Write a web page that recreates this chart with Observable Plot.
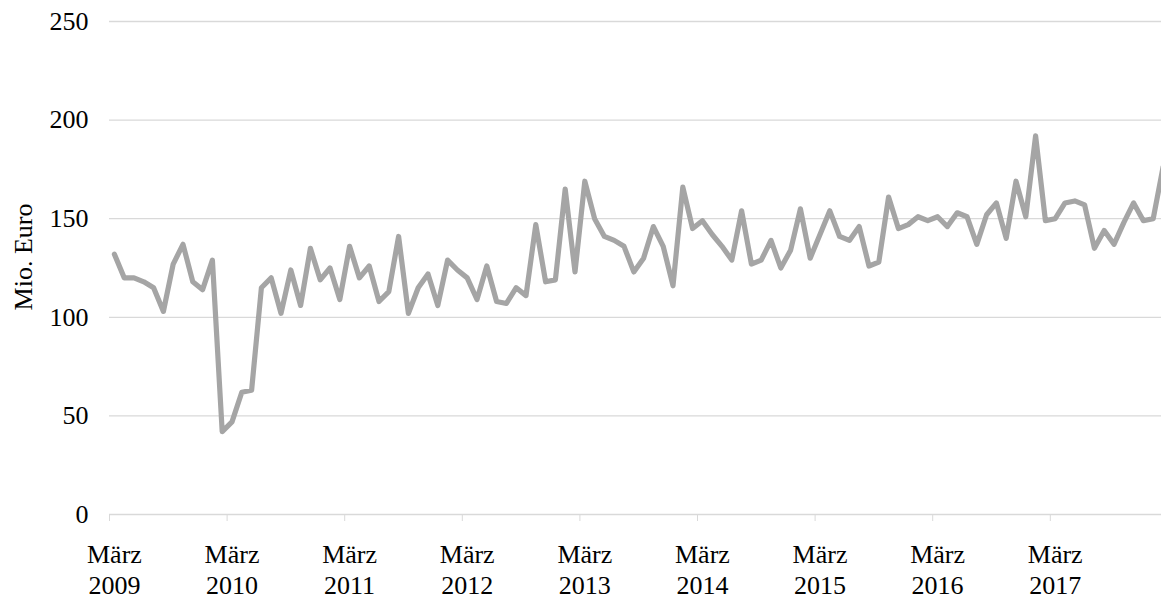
<!DOCTYPE html>
<html><head><meta charset="utf-8">
<script src="https://cdn.jsdelivr.net/npm/d3@7"></script>
<script src="https://cdn.jsdelivr.net/npm/@observablehq/plot@0.6"></script>
<style>html,body{margin:0;padding:0;background:#fff;overflow:hidden}</style>
</head><body><div id="chart"></div>
<script>
// Monthly values (Mio. Euro), März 2009 – Februar 2018
const values = [
  132,120,120,118,115,103,127,137,118,114,129,42,
  47,62,63,115,120,102,124,106,135,119,125,109,
  136,120,126,108,113,141,102,115,122,106,129,124,
  120,109,126,108,107,115,111,147,118,119,165,123,
  169,150,141,139,136,123,130,146,136,116,166,145,
  149,142,136,129,154,127,129,139,125,134,155,130,
  142,154,141,139,146,126,128,161,145,147,151,149,
  151,146,153,151,137,152,158,140,169,151,192,149,
  150,158,159,157,135,144,137,148,158,149,150,176
];
const yTicks = [0, 50, 100, 150, 200, 250];
const tickYears = [2009, 2010, 2011, 2012, 2013, 2014, 2015, 2016, 2017];
const tickMonth = "März";
const yLabel = "Mio. Euro";

const data = values.map((v, i) => ({i, v}));
const labelData = tickYears.map((y, k) => ({i: k * 12, label: `${tickMonth}\n${y}`}));
const boundaries = tickYears.map((y, k) => k * 12 - 0.5);

const chart = Plot.plot({
  width: 1161, height: 597,
  marginLeft: 109, marginRight: 0, marginTop: 21, marginBottom: 83,
  style: {fontFamily: "'Liberation Serif', 'Times New Roman', serif", fontSize: "26px", color: "#000", background: "#fff"},
  x: {domain: [-0.5, values.length - 0.5], range: [109, 109 + values.length * 9.8]},
  y: {domain: [0, 250]},
  marks: [
    Plot.ruleY(yTicks, {stroke: "#d9d9d9", strokeWidth: 1.3}),
    Plot.axisX(boundaries, {tickSize: 7, tickFormat: () => "", stroke: "#d9d9d9", label: null}),
    Plot.axisY(yTicks, {tickSize: 0, tickPadding: 21, label: null, fill: "#000"}),
    Plot.text(labelData, {x: "i", y: () => 0, text: "label", lineAnchor: "top", lineHeight: 1.2, dy: 26, fill: "#000"}),
    Plot.text([yLabel], {frameAnchor: "left", textAnchor: "middle", rotate: -90, dx: -86, dy: -11, fill: "#000"}),
    Plot.line(data, {x: "i", y: "v", stroke: "#a5a5a5", strokeWidth: 5.2, strokeLinejoin: "round"})
  ]
});
document.getElementById("chart").appendChild(chart);
</script>
</body></html>
